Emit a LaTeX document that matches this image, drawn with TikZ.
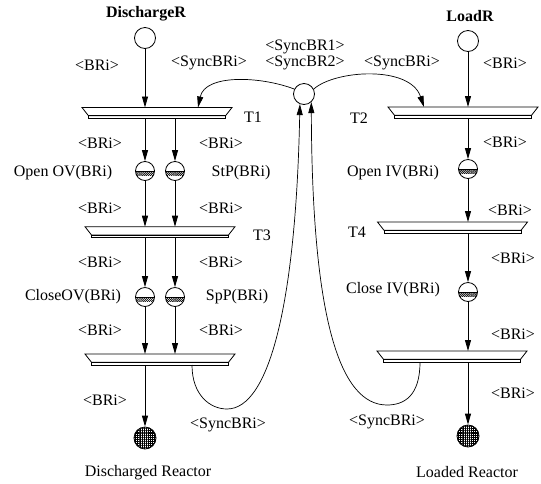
\documentclass[tikz,border=0pt]{standalone}
\usepackage{fontspec}
\setmainfont{Liberation Serif}
\usetikzlibrary{arrows.meta,calc,patterns.meta}
\begin{document}
\begin{tikzpicture}[x=1pt,y=-1pt,
  lbl/.style={inner sep=0pt, font=\fontsize{16}{19}\selectfont},
  place/.style={circle, draw, line width=0.8pt, minimum size=21pt, inner sep=0pt},
  halfplace/.style={circle, draw, line width=0.8pt, minimum size=19pt, inner sep=0pt,
    path picture={
      \fill[pattern={Lines[angle=45,distance=1.5pt,line width=0.4pt]}]
        ([xshift=-12pt]path picture bounding box.center) rectangle ([xshift=12pt,yshift=-4.6pt]path picture bounding box.center);
      \fill[pattern={Lines[angle=-45,distance=1.5pt,line width=0.4pt]}]
        ([xshift=-12pt]path picture bounding box.center) rectangle ([xshift=12pt,yshift=-4.6pt]path picture bounding box.center);
      \draw[line width=0.7pt] ([xshift=-12pt]path picture bounding box.center) -- ([xshift=12pt]path picture bounding box.center);
    }},
  fullplace/.style={circle, draw, line width=0.8pt, minimum size=22pt, inner sep=0pt,
    path picture={
      \fill[pattern={Lines[angle=0,distance=1.9pt,line width=0.4pt]}] (path picture bounding box.south west) rectangle (path picture bounding box.north east);
      \fill[pattern={Lines[angle=90,distance=1.9pt,line width=0.4pt]}] (path picture bounding box.south west) rectangle (path picture bounding box.north east);
    }},
  bar/.style={minimum width=150pt, minimum height=11pt, inner sep=0pt, outer sep=0pt},
  arc/.style={line width=0.9pt, -{Triangle[length=11pt,width=6pt]}},
  sync/.style={line width=0.7pt, -{Triangle[length=11pt,width=6pt]}}
]
\useasboundingbox (0,0) rectangle (541,483);

% transitions (bars)
\node[bar] (t1) at (157,113) {};
\node[bar] (t3) at (160,232.2) {};
\node[bar] (t5) at (160,359.5) {};
\node[bar] (t2) at (463,112.5) {};
\node[bar] (t4) at (452.5,227.5) {};
\node[bar] (t6) at (452,356.5) {};
\foreach \b in {t1,t2,t3,t4,t5,t6}{
  \draw[line width=0.8pt] (\b.north west) -- (\b.north east)
     -- ($(\b.north east)+(-6.5pt,-8.3pt)$) -- ($(\b.north west)+(6.5pt,-8.3pt)$) -- cycle;
  \draw[line width=0.8pt] ($(\b.north west)+(6.5pt,-8.3pt)$) rectangle ($(\b.south east)+(-6.5pt,0pt)$);
}

% places
\node[place] (pD) at (145,38) {};
\node[place] (pL) at (468,41) {};
\node[place] (c) at (304,94) {};
\node[halfplace] (oo1) at (145,171) {};
\node[halfplace] (oo2) at (175,171) {};
\node[halfplace] (co1) at (145,297) {};
\node[halfplace] (co2) at (175,297) {};
\node[halfplace] (oi) at (468,169) {};
\node[halfplace] (ci) at (468,292) {};
\node[fullplace] (rD) at (145,438) {};
\node[fullplace] (rL) at (468,436) {};

% left branch
\draw[arc] (pD.south) -- (pD.south |- t1.north);
\draw[arc] (t1.south -| oo1) -- (oo1.north);
\draw[arc] (t1.south -| oo2) -- (oo2.north);
\draw[arc] (oo1.south) -- (oo1.south |- t3.north);
\draw[arc] (oo2.south) -- (oo2.south |- t3.north);
\draw[arc] (t3.south -| co1) -- (co1.north);
\draw[arc] (t3.south -| co2) -- (co2.north);
\draw[arc] (co1.south) -- (co1.south |- t5.north);
\draw[arc] (co2.south) -- (co2.south |- t5.north);
\draw[arc] (t5.south -| rD) -- (rD.north);

% right branch
\draw[arc] (pL.south) -- (pL.south |- t2.north);
\draw[arc] (t2.south -| oi) -- (oi.north);
\draw[arc] (oi.south) -- (oi.south |- t4.north);
\draw[arc] (t4.south -| ci) -- (ci.north);
\draw[arc] (ci.south) -- (ci.south |- t6.north);
\draw[arc] (t6.south -| rL) -- (rL.north);

% synchronisation arcs
\draw[sync] (c.153) .. controls (260,76) and (205,74) .. ($(t1.north west)+(116pt,0pt)$);
\draw[sync] (c.27) .. controls (335,70) and (410,65) .. ($(t2.north west)+(36pt,0pt)$);
\draw[sync] ($(t5.south west)+(107pt,0pt)$) .. controls (192,395) and (210,409) .. (227,409)
   .. controls (270,409) and (296,300) .. (c.-112);
\draw[sync] ($(t6.south west)+(43pt,0pt)$) .. controls (420,395) and (405,405) .. (387,405)
   .. controls (340,405) and (312,320) .. (c.-48);

% labels
\node[lbl] (lDR) at (146,14) {\bfseries DischargeR};
\node[lbl] (lLR) at (470,16) {\bfseries LoadR};
\node[lbl] (a1) at (97,65) {<BRi>};
\node[lbl] (s1) at (209,63) {<SyncBRi>};
\node[lbl] (s0a) at (305,47) {<SyncBR1>};
\node[lbl] (s0b) at (305,63) {<SyncBR2>};
\node[lbl] (s2) at (402,63) {<SyncBRi>};
\node[lbl] (a2) at (505,63) {<BRi>};
\node[lbl] (lT1) at (253,117) {T1};
\node[lbl] (lT2) at (359,118) {T2};
\node[lbl] (a3) at (100,143) {<BRi>};
\node[lbl] (a4) at (221,143) {<BRi>};
\node[lbl] (a5) at (505,142) {<BRi>};
\node[lbl] (lOOV) at (63,173) {Open OV(BRi)};
\node[lbl] (lStP) at (241,173) {StP(BRi)};
\node[lbl] (lOIV) at (393,173) {Open IV(BRi)};
\node[lbl] (a6) at (100,208) {<BRi>};
\node[lbl] (a7) at (221,208) {<BRi>};
\node[lbl] (a8) at (510,210) {<BRi>};
\node[lbl] (lT3) at (262,235) {T3};
\node[lbl] (lT4) at (357,232) {T4};
\node[lbl] (a9) at (100,262) {<BRi>};
\node[lbl] (a10) at (221,262) {<BRi>};
\node[lbl] (a11) at (513,258) {<BRi>};
\node[lbl] (lCOV) at (73,297) {CloseOV(BRi)};
\node[lbl] (lSpP) at (237,297) {SpP(BRi)};
\node[lbl] (lCIV) at (393,290) {Close IV(BRi)};
\node[lbl] (a12) at (100,330) {<BRi>};
\node[lbl] (a13) at (221,330) {<BRi>};
\node[lbl] (a14) at (513,334) {<BRi>};
\node[lbl] (a15) at (105,400) {<BRi>};
\node[lbl] (a16) at (513,393) {<BRi>};
\node[lbl] (s3) at (228,425) {<SyncBRi>};
\node[lbl] (s4) at (387,422) {<SyncBRi>};
\node[lbl] (lDis) at (148,473) {Discharged Reactor};
\node[lbl] (lLoad) at (467,472) {Loaded Reactor};
\end{tikzpicture}
\end{document}
